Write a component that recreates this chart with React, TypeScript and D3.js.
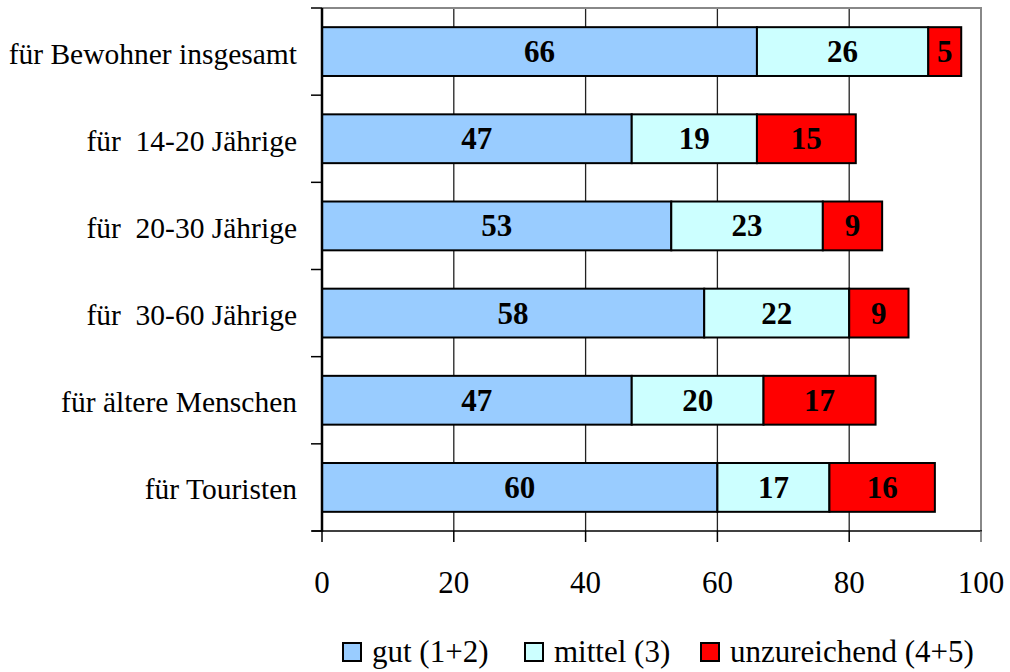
import React, { useEffect, useRef } from 'react';
import * as d3 from 'd3';

const categories = [
  'für Bewohner insgesamt',
  'für  14-20 Jährige',
  'für  20-30 Jährige',
  'für  30-60 Jährige',
  'für ältere Menschen',
  'für Touristen',
];
const seriesNames = ['gut (1+2)', 'mittel (3)', 'unzureichend (4+5)'];
const gut = [66, 47, 53, 58, 47, 60];
const mittel = [26, 19, 23, 22, 20, 17];
const unzureichend = [5, 15, 9, 9, 17, 16];
const xTicks = [0, 20, 40, 60, 80, 100];
const colors = ['#99CCFF', '#CCFFFF', '#FF0000'];

const App: React.FC = () => {
  const svgRef = useRef<SVGSVGElement>(null);

  useEffect(() => {
    if (!svgRef.current) {return;}
    const svg = d3.select(svgRef.current);
    svg.selectAll('*').remove();

    const font = '"Liberation Serif", "Times New Roman", serif';
    const left = 322, right = 981, top = 8, bottom = 531;

    const x = d3.scaleLinear().domain([0, 100]).range([left, right]);
    const y = d3.scaleBand().domain(categories).range([top, bottom]).paddingInner(0.44).paddingOuter(0.22);

    // 网格线
    svg.append('g')
      .selectAll('line')
      .data(xTicks.slice(1, -1))
      .enter()
      .append('line')
      .attr('x1', d => x(d)).attr('x2', d => x(d))
      .attr('y1', top).attr('y2', bottom)
      .attr('stroke', '#222').attr('stroke-width', 1.3);

    // 边框
    svg.append('path')
      .attr('d', `M${left},${top}H${right}V${bottom}`)
      .attr('fill', 'none').attr('stroke', '#888').attr('stroke-width', 2);

    // 堆叠条
    const rows = categories.map((c, i) => ({ cat: c, vals: [gut[i], mittel[i], unzureichend[i]] }));
    rows.forEach(r => {
      let acc = 0;
      r.vals.forEach((v, k) => {
        const x0 = x(acc), x1 = x(acc + v);
        const by = y(r.cat) || 0;
        svg.append('rect')
          .attr('x', x0).attr('y', by)
          .attr('width', x1 - x0).attr('height', y.bandwidth())
          .attr('fill', colors[k]).attr('stroke', '#000').attr('stroke-width', 2);
        svg.append('text')
          .attr('x', (x0 + x1) / 2)
          .attr('y', by + y.bandwidth() / 2 + 10.5)
          .attr('text-anchor', 'middle')
          .attr('font-family', font).attr('font-weight', 'bold').attr('font-size', 31)
          .attr('fill', '#000')
          .text(v);
        acc += v;
      });
    });

    // 坐标轴
    svg.append('line').attr('x1', left).attr('x2', left).attr('y1', top).attr('y2', bottom + 1)
      .attr('stroke', '#000').attr('stroke-width', 2.5);
    svg.append('line').attr('x1', left - 10).attr('x2', right + 1).attr('y1', bottom).attr('y2', bottom)
      .attr('stroke', '#000').attr('stroke-width', 1.5);

    const bounds = d3.range(categories.length + 1).map(i => top + i * (bottom - top) / categories.length);
    svg.append('g').selectAll('line').data(bounds).enter().append('line')
      .attr('x1', left - 11).attr('x2', left).attr('y1', d => d).attr('y2', d => d)
      .attr('stroke', '#000').attr('stroke-width', 1.5);

    svg.append('g').selectAll('line').data(xTicks).enter().append('line')
      .attr('x1', d => x(d)).attr('x2', d => x(d)).attr('y1', bottom).attr('y2', bottom + 11)
      .attr('stroke', d => (d === 100 ? '#666' : '#000')).attr('stroke-width', 1.5);

    svg.append('g').selectAll('text').data(xTicks).enter().append('text')
      .attr('x', d => x(d)).attr('y', 593)
      .attr('text-anchor', 'middle')
      .attr('font-family', font).attr('font-size', 31)
      .text(d => d);

    svg.append('g').selectAll('text').data(categories).enter().append('text')
      .attr('x', 297)
      .attr('y', d => (y(d) || 0) + y.bandwidth() / 2 + 12)
      .attr('text-anchor', 'end')
      .attr('font-family', font).attr('font-size', 29.5)
      .style('white-space', 'pre')
      .text(d => d);

    // 图例
    const legendX = [343, 525, 701];
    seriesNames.forEach((name, k) => {
      svg.append('rect')
        .attr('x', legendX[k]).attr('y', 643).attr('width', 18).attr('height', 18)
        .attr('fill', colors[k]).attr('stroke', '#000').attr('stroke-width', 2);
      svg.append('text')
        .attr('x', legendX[k] + 29).attr('y', 662)
        .attr('font-family', font).attr('font-size', 31)
        .text(name);
    });
  }, []);

  return (
    <div style={{ position: 'absolute', left: 0, top: 0 }}>
      <svg ref={svgRef} width={1010} height={672} style={{ display: 'block', background: '#fff' }} />
    </div>
  );
};

export default App;
